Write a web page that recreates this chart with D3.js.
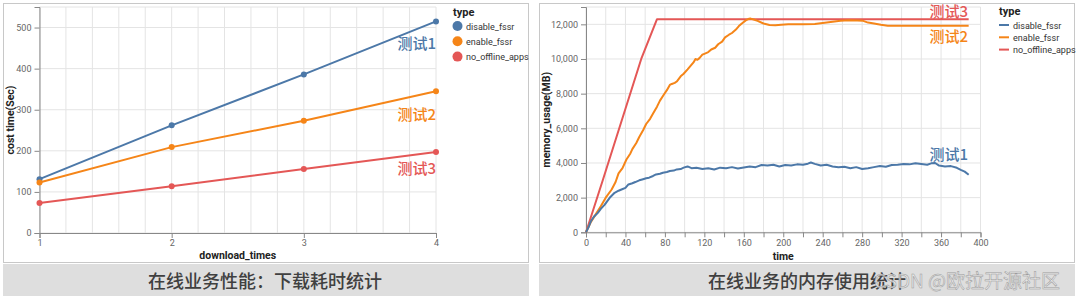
<!DOCTYPE html>
<html>
<head>
<meta charset="utf-8">
<script src="https://cdn.jsdelivr.net/npm/d3@7"></script>
<style>
  body { margin: 0; background: #fff; }
  svg { display: block; }
</style>
</head>
<body>
<svg id="chart" width="1080" height="298"></svg>
<script>
// ---- data: left chart (download cost time) ----
var downloadTimes = [1, 2, 3, 4];
var costDisable = [131, 262, 386, 515];
var costEnable = [123, 209, 273, 345];
var costNoOffline = [73, 114, 156, 197];

// ---- data: right chart (memory usage over time) ----
var memDisableT = [0, 3, 5, 8, 12, 15, 19, 24, 29, 33, 36, 40, 43, 47, 50, 54, 57, 61, 64, 68, 71, 75, 78, 82, 85, 89, 92, 96, 99, 103, 107, 112, 118, 124, 130, 136, 142, 148, 154, 160, 166, 172, 178, 184, 190, 196, 202, 208, 214, 220, 225, 228, 232, 238, 244, 250, 256, 262, 268, 274, 280, 286, 292, 298, 304, 310, 316, 322, 328, 334, 340, 346, 350, 354, 358, 364, 370, 376, 380, 384, 388];
var memDisableV = [0, 350, 640, 900, 1120, 1350, 1600, 1990, 2280, 2400, 2470, 2560, 2760, 2830, 2900, 3000, 3050, 3120, 3150, 3250, 3340, 3380, 3440, 3480, 3540, 3560, 3630, 3650, 3730, 3800, 3700, 3720, 3650, 3700, 3620, 3730, 3700, 3760, 3680, 3740, 3800, 3760, 3880, 3850, 3900, 3800, 3880, 3850, 3920, 3900, 3960, 4030, 3950, 3850, 3900, 3800, 3750, 3780, 3700, 3760, 3650, 3700, 3760, 3820, 3780, 3880, 3900, 3940, 3920, 3980, 3940, 3900, 3980, 4000, 3850, 3800, 3820, 3720, 3600, 3500, 3320];

var memEnableT = [0, 5, 10, 15, 20, 26, 30, 33, 37, 41, 45, 47, 51, 54, 58, 61, 65, 68, 72, 75, 79, 82, 85, 87, 90, 92, 96, 99, 103, 106, 109, 111, 113, 115, 118, 120, 124, 127, 131, 134, 138, 141, 145, 148, 152, 155, 158, 162, 165, 167, 170, 174, 180, 186, 192, 198, 205, 212, 220, 232, 240, 250, 258, 267, 275, 281, 286, 292, 299, 306, 320, 340, 360, 388];
var memEnableV = [0, 600, 1050, 1500, 2000, 2470, 2900, 3400, 3700, 4200, 4550, 4800, 5150, 5500, 5900, 6250, 6550, 6850, 7250, 7600, 7950, 8200, 8500, 8560, 8620, 8700, 9000, 9150, 9400, 9600, 9800, 10000, 9950, 10050, 10250, 10300, 10400, 10550, 10650, 10850, 11000, 11250, 11400, 11500, 11700, 11900, 12050, 12230, 12320, 12330, 12280, 12200, 12050, 11960, 11950, 11980, 12000, 12000, 12000, 12020, 12080, 12150, 12200, 12230, 12220, 12200, 12100, 12050, 11980, 11920, 11920, 11920, 11920, 11920];

var memNoOfflineT = [0, 17, 56, 72, 388];
var memNoOfflineV = [0, 3000, 10000, 12300, 12300];

var seriesNames = ["disable_fssr", "enable_fssr", "no_offline_apps"];
var seriesColors = ["#4c78a8", "#f58518", "#e45756"];
var testLabels = ["测试1", "测试2", "测试3"];

var leftYTicks = [0, 100, 200, 300, 400, 500];
var rightYTicks = [0, 2000, 4000, 6000, 8000, 10000, 12000];
var rightXTicks = [0, 40, 80, 120, 160, 200, 240, 280, 320, 360, 400];

var captionLeft = "在线业务性能：下载耗时统计";
var captionRight = "在线业务的内存使用统计";
var watermark = "CSDN @欧拉开源社区";

var svg = d3.select("#chart");
var latin = "Roboto, 'Noto Sans', sans-serif";
var cjk = "'Noto Sans CJK SC', sans-serif";
var color = d3.scaleOrdinal().domain(seriesNames).range(seriesColors);

// panel frames + caption bars
function panel(x0, x1, caption, cx) {
  svg.append("rect")
    .attr("x", x0 + 0.5).attr("y", 3.5)
    .attr("width", x1 - x0).attr("height", 259)
    .attr("fill", "#fff").attr("stroke", "#c8c8c8");
  svg.append("rect")
    .attr("x", x0).attr("y", 264)
    .attr("width", x1 - x0 + 1).attr("height", 32)
    .attr("fill", "#dedede");
  svg.append("text")
    .attr("x", cx).attr("y", 288)
    .attr("text-anchor", "middle")
    .attr("font-family", cjk).attr("font-size", 18).attr("font-weight", 500)
    .attr("fill", "#404040")
    .text(caption);
}
panel(3, 528, captionLeft, 265);
panel(539, 1074, captionRight, 807);

function styleAxis(g) {
  g.select(".domain").attr("stroke", "#888");
  g.selectAll(".tick line").attr("stroke", "#888");
  g.selectAll(".tick text").attr("fill", "#666")
    .attr("font-family", latin).attr("font-size", 9);
}

// ================= left chart =================
var xL = d3.scaleLinear().domain([1, 4]).range([39.5, 436]);
var yL = d3.scaleLinear().domain([0, 550]).range([233, 7]);

var gL = svg.append("g");
// grid
gL.append("g").selectAll("line")
  .data(d3.range(1, 4.01, 0.2))
  .enter().append("line")
  .attr("x1", function(d) { return xL(d); }).attr("x2", function(d) { return xL(d); })
  .attr("y1", yL(550)).attr("y2", yL(0))
  .attr("stroke", "#e4e4e4");
gL.append("g").selectAll("line")
  .data(leftYTicks.concat([550]))
  .enter().append("line")
  .attr("x1", xL(1)).attr("x2", xL(4))
  .attr("y1", function(d) { return yL(d); }).attr("y2", function(d) { return yL(d); })
  .attr("stroke", "#e4e4e4");

gL.append("g")
  .attr("transform", "translate(0," + yL(0) + ")")
  .call(d3.axisBottom(xL).tickValues(downloadTimes).tickFormat(d3.format("d")).tickSize(5).tickPadding(2))
  .call(styleAxis);
gL.append("g")
  .attr("transform", "translate(" + xL(1) + ",0)")
  .call(d3.axisLeft(yL).tickValues(leftYTicks).tickSize(5).tickPadding(3))
  .call(styleAxis);

var leftSeries = [costDisable, costEnable, costNoOffline];
var lineL = d3.line()
  .x(function(d, i) { return xL(downloadTimes[i]); })
  .y(function(d) { return yL(d); });

leftSeries.forEach(function(vals, k) {
  gL.append("path")
    .datum(vals)
    .attr("fill", "none")
    .attr("stroke", seriesColors[k])
    .attr("stroke-width", 2)
    .attr("d", lineL);
  gL.selectAll(".pt" + k)
    .data(vals)
    .enter().append("circle")
    .attr("cx", function(d, i) { return xL(downloadTimes[i]); })
    .attr("cy", function(d) { return yL(d); })
    .attr("r", 3)
    .attr("fill", seriesColors[k]);
});

// test labels
var leftLabelY = [49, 120, 174];
testLabels.forEach(function(t, k) {
  gL.append("text")
    .attr("x", xL(4)).attr("y", leftLabelY[k])
    .attr("text-anchor", "end")
    .attr("font-family", cjk).attr("font-size", 15).attr("font-weight", 500)
    .attr("fill", seriesColors[k])
    .text(t);
});

gL.append("text")
  .attr("transform", "translate(14," + yL(275) + ") rotate(-90)")
  .attr("text-anchor", "middle")
  .attr("font-family", latin).attr("font-size", 10.5).attr("font-weight", "bold")
  .attr("fill", "#222")
  .text("cost time(Sec)");
gL.append("text")
  .attr("x", (xL(1) + xL(4)) / 2).attr("y", 259)
  .attr("text-anchor", "middle")
  .attr("font-family", latin).attr("font-size", 10.5).attr("font-weight", "bold")
  .attr("fill", "#222")
  .text("download_times");

// legend
var legL = gL.append("g").attr("transform", "translate(453,0)");
legL.append("text").attr("x", 0).attr("y", 16)
  .attr("font-family", latin).attr("font-size", 11).attr("font-weight", "bold")
  .attr("fill", "#222").text("type");
seriesNames.forEach(function(n, k) {
  legL.append("circle").attr("cx", 4.5).attr("cy", 26 + k * 15.3).attr("r", 5)
    .attr("fill", color(n));
  legL.append("text").attr("x", 13).attr("y", 29.5 + k * 15.3)
    .attr("font-family", latin).attr("font-size", 9).attr("fill", "#333").text(n);
});

// ================= right chart =================
var xR = d3.scaleLinear().domain([0, 400]).range([586, 980.5]);
var yR = d3.scaleLinear().domain([0, 13000]).range([232.3, 7]);

var gR = svg.append("g");
gR.append("g").selectAll("line")
  .data(d3.range(0, 401, 20))
  .enter().append("line")
  .attr("x1", function(d) { return xR(d); }).attr("x2", function(d) { return xR(d); })
  .attr("y1", yR(13000)).attr("y2", yR(0))
  .attr("stroke", "#e4e4e4");
gR.append("g").selectAll("line")
  .data(rightYTicks.concat([13000]))
  .enter().append("line")
  .attr("x1", xR(0)).attr("x2", xR(400))
  .attr("y1", function(d) { return yR(d); }).attr("y2", function(d) { return yR(d); })
  .attr("stroke", "#e4e4e4");

gR.append("g")
  .attr("transform", "translate(0," + yR(0) + ")")
  .call(d3.axisBottom(xR).tickValues(d3.range(0, 401, 20)).tickSize(5).tickPadding(2)
    .tickFormat(function(d) { return rightXTicks.indexOf(d) >= 0 ? d : ""; }))
  .call(styleAxis);
gR.append("g")
  .attr("transform", "translate(" + xR(0) + ",0)")
  .call(d3.axisLeft(yR).tickValues(rightYTicks).tickSize(5).tickPadding(3).tickFormat(d3.format(",")))
  .call(styleAxis);

var rightSeries = [
  { t: memDisableT, v: memDisableV },
  { t: memEnableT, v: memEnableV },
  { t: memNoOfflineT, v: memNoOfflineV }
];
var lineR = d3.line()
  .x(function(d) { return xR(d[0]); })
  .y(function(d) { return yR(d[1]); });

// draw red first, then orange, then blue on top as in reference
[2, 1, 0].forEach(function(k) {
  var s = rightSeries[k];
  gR.append("path")
    .datum(s.t.map(function(t, i) { return [t, s.v[i]]; }))
    .attr("fill", "none")
    .attr("stroke", seriesColors[k])
    .attr("stroke-width", 2)
    .attr("stroke-linejoin", "round")
    .attr("d", lineR);
});

var rightLabelY = [160, 41.5, 16.5];
testLabels.forEach(function(t, k) {
  gR.append("text")
    .attr("x", 968).attr("y", rightLabelY[k])
    .attr("text-anchor", "end")
    .attr("font-family", cjk).attr("font-size", 15).attr("font-weight", 500)
    .attr("fill", seriesColors[k])
    .text(t);
});

gR.append("text")
  .attr("transform", "translate(550," + yR(6500) + ") rotate(-90)")
  .attr("text-anchor", "middle")
  .attr("font-family", latin).attr("font-size", 10.5).attr("font-weight", "bold")
  .attr("fill", "#222")
  .text("memory_usage(MB)");
gR.append("text")
  .attr("x", (xR(0) + xR(400)) / 2).attr("y", 260)
  .attr("text-anchor", "middle")
  .attr("font-family", latin).attr("font-size", 10.5).attr("font-weight", "bold")
  .attr("fill", "#222")
  .text("time");

var legR = gR.append("g").attr("transform", "translate(999,0)");
legR.append("text").attr("x", 0).attr("y", 15)
  .attr("font-family", latin).attr("font-size", 11).attr("font-weight", "bold")
  .attr("fill", "#222").text("type");
seriesNames.forEach(function(n, k) {
  legR.append("line").attr("x1", 0).attr("x2", 10)
    .attr("y1", 25 + k * 12.3).attr("y2", 25 + k * 12.3)
    .attr("stroke", color(n)).attr("stroke-width", 2);
  legR.append("text").attr("x", 14).attr("y", 28.5 + k * 12.3)
    .attr("font-family", latin).attr("font-size", 9).attr("fill", "#333").text(n);
});

// watermark over the right caption
svg.append("text")
  .attr("x", 874).attr("y", 288)
  .attr("font-family", cjk).attr("font-size", 19)
  .attr("fill", "#ececec").attr("fill-opacity", 0.8)
  .attr("stroke", "#9a9a9a").attr("stroke-width", 0.5)
  .text(watermark);
</script>
</body>
</html>
